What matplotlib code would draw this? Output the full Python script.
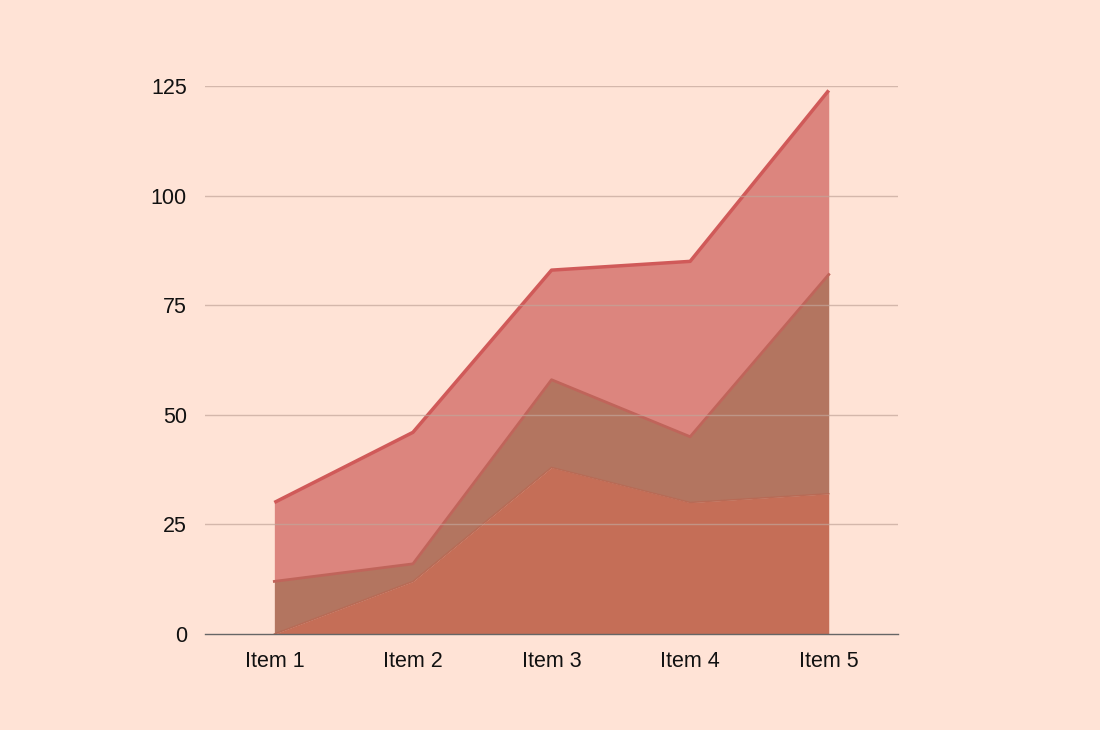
import numpy as np
import matplotlib.pyplot as plt

plt.rcParams['font.family'] = ['Liberation Sans', 'DejaVu Sans']

# --- data
items = ['Item 1', 'Item 2', 'Item 3', 'Item 4', 'Item 5']
series_a = [0, 12, 38, 30, 32]
series_b = [12, 4, 20, 15, 50]
series_c = [18, 30, 25, 40, 42]
y_ticks = [0, 25, 50, 75, 100, 125]

BG = '#FFE3D6'

fig = plt.figure(figsize=(11, 7.3), dpi=100, facecolor=BG)
ax = fig.add_axes([0.1864, 0.1315, 0.63, 0.7507], facecolor=BG)

x = np.arange(len(items))
a = np.array(series_a)
b = a + np.array(series_b)
c = b + np.array(series_c)

# --- gridlines
for t in y_ticks[1:]:
    ax.axhline(t, color='#C2A59A', linewidth=1, zorder=5, alpha=0.7)

# --- stacked areas
ax.fill_between(x, b, c, color='#DC857E', linewidth=0, zorder=2)
ax.plot(x, c, color='#D05A59', linewidth=2.5, zorder=3, solid_capstyle='butt')
ax.fill_between(x, a, b, color='#B37560', linewidth=0, zorder=2)
ax.plot(x, b, color='#C0645A', linewidth=2, zorder=3)
ax.fill_between(x, 0, a, color='#C56E57', linewidth=0, zorder=2)
ax.plot(x, a, color='#B86A55', linewidth=1, zorder=3)

ax.set_xlim(-0.5, 4.5)
ax.set_ylim(0, 125)
ax.set_xticks(x)
ax.set_xticklabels(items)
ax.set_yticks(y_ticks)
ax.tick_params(length=0, labelsize=15.5, colors='#111111')
ax.tick_params(axis='x', pad=12)
ax.tick_params(axis='y', pad=13)

for s in ['top', 'right', 'left']:
    ax.spines[s].set_visible(False)
ax.spines['bottom'].set_color('#666666')
ax.spines['bottom'].set_linewidth(1)
ax.spines['bottom'].set_zorder(6)

fig.savefig('out.png', dpi=100, facecolor=BG)
